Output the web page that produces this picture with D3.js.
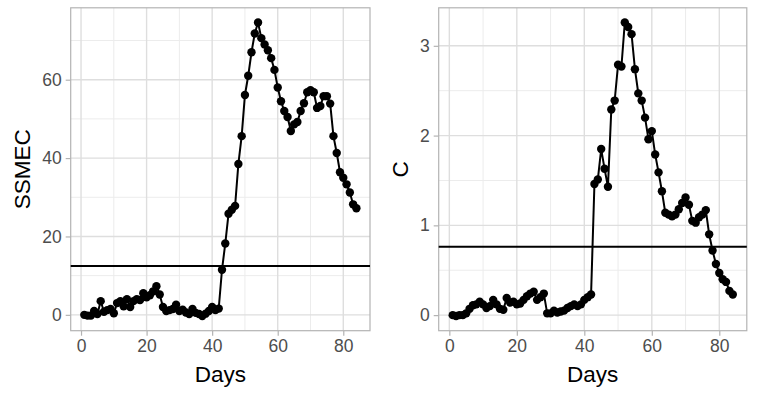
<!DOCTYPE html>
<html>
<head>
<meta charset="utf-8">
<script src="https://cdn.jsdelivr.net/npm/d3@7"></script>
<style>
  html, body { margin: 0; padding: 0; background: #ffffff; }
  svg { display: block; }
  text { font-family: Arial, "Liberation Sans", Helvetica, sans-serif; }
</style>
</head>
<body>
<svg id="chart" width="769" height="403"></svg>
<script>
// ---------------- data ----------------
const days = d3.range(1, 85);

const ssmec = [
  0, -0.2, -0.2, 1.0, 0.2, 3.5, 0.8, 1.2, 1.5, 0.4,
  3.0, 3.5, 2.2, 4.0, 2.0, 3.5, 4.0, 3.8, 5.5, 4.5,
  5.0, 6.0, 7.3, 5.2, 2.0, 1.0, 1.2, 1.5, 2.6, 1.0,
  1.3, 0.6, 0.2, 1.5, 0.5, 0.2, -0.3, 0.3, 1.0, 2.0,
  1.2, 1.6, 11.5, 18.2, 25.8, 26.8, 27.8, 38.5, 45.6, 56.1,
  61.0, 67.0, 71.8, 74.6, 70.6, 69.0, 67.5, 65.5, 62.5, 58.0,
  54.5, 52.0, 50.5, 46.9, 48.6, 49.2, 52.0, 54.0, 56.8, 57.3,
  56.8, 52.8, 53.3, 55.8, 55.8, 53.9, 45.6, 41.3, 36.4, 35.0,
  33.3, 31.2, 28.2, 27.2
];

const cValues = [
  0.0, -0.01, 0.0, 0.0, 0.02, 0.07, 0.11, 0.12, 0.15, 0.12,
  0.08, 0.1, 0.17, 0.12, 0.07, 0.06, 0.19, 0.14, 0.15, 0.12,
  0.13, 0.17, 0.21, 0.24, 0.26, 0.17, 0.2, 0.24, 0.02, 0.02,
  0.05, 0.03, 0.04, 0.05, 0.08, 0.1, 0.12, 0.1, 0.12, 0.17,
  0.2, 0.23, 1.46, 1.51, 1.85, 1.63, 1.43, 2.29, 2.39, 2.79,
  2.77, 3.26, 3.21, 3.13, 2.74, 2.47, 2.39, 2.2, 1.96, 2.05,
  1.79, 1.59, 1.38, 1.14, 1.12, 1.1, 1.12, 1.18, 1.25, 1.31,
  1.23, 1.05, 1.03, 1.09, 1.12, 1.17, 0.9, 0.72, 0.57, 0.47,
  0.4, 0.37, 0.27, 0.23
];

const ssmecThreshold = 12.45;
const cThreshold = 0.763;

const xTicks = [0, 20, 40, 60, 80];
const xMinor = [10, 30, 50, 70];
const ssmecTicks = [0, 20, 40, 60];
const ssmecMinor = [10, 30, 50, 70];
const cTicks = [0, 1, 2, 3];
const cMinor = [0.5, 1.5, 2.5];

const xTitle = "Days";
const panels = [
  { values: ssmec, threshold: ssmecThreshold, yTicks: ssmecTicks, yMinor: ssmecMinor, yTitle: "SSMEC",
    left: 70.7, right: 370, titleX: 22 },
  { values: cValues, threshold: cThreshold, yTicks: cTicks, yMinor: cMinor, yTitle: "C",
    left: 438.7, right: 746.8, titleX: 400 }
];

// ---------------- drawing ----------------
const svg = d3.select("#chart");
const panelTop = 7.8, panelBottom = 330.7;

function expand(ext) {
  const pad = (ext[1] - ext[0]) * 0.05;
  return [ext[0] - pad, ext[1] + pad];
}

panels.forEach(p => {
  const x = d3.scaleLinear().domain(expand(d3.extent(days))).range([p.left, p.right]);
  const y = d3.scaleLinear().domain(expand(d3.extent(p.values))).range([panelBottom, panelTop]);
  const g = svg.append("g");

  // minor grid
  g.selectAll(".vminor").data(xMinor).enter().append("line")
    .attr("x1", d => x(d)).attr("x2", d => x(d)).attr("y1", panelTop).attr("y2", panelBottom)
    .attr("stroke", "#ececec").attr("stroke-width", 1);
  g.selectAll(".hminor").data(p.yMinor).enter().append("line")
    .attr("x1", p.left).attr("x2", p.right).attr("y1", d => y(d)).attr("y2", d => y(d))
    .attr("stroke", "#ececec").attr("stroke-width", 1);
  // major grid
  g.selectAll(".vmajor").data(xTicks).enter().append("line")
    .attr("x1", d => x(d)).attr("x2", d => x(d)).attr("y1", panelTop).attr("y2", panelBottom)
    .attr("stroke", "#dedede").attr("stroke-width", 1.4);
  g.selectAll(".hmajor").data(p.yTicks).enter().append("line")
    .attr("x1", p.left).attr("x2", p.right).attr("y1", d => y(d)).attr("y2", d => y(d))
    .attr("stroke", "#dedede").attr("stroke-width", 1.4);

  // axes
  const xAxis = d3.axisBottom(x).tickValues(xTicks).tickSize(5).tickPadding(4).tickFormat(d3.format("d"));
  const gx = g.append("g").attr("transform", `translate(0,${panelBottom})`).call(xAxis);
  const yAxis = d3.axisLeft(y).tickValues(p.yTicks).tickSize(5).tickPadding(4).tickFormat(d3.format("d"));
  const gy = g.append("g").attr("transform", `translate(${p.left},0)`).call(yAxis);
  [gx, gy].forEach(a => {
    a.select(".domain").remove();
    a.selectAll(".tick line").attr("stroke", "#b3b3b3").attr("stroke-width", 1.2);
    a.selectAll(".tick text").attr("fill", "#4d4d4d").style("font-size", "17.5px");
  });

  // panel border
  g.append("rect").attr("x", p.left).attr("y", panelTop)
    .attr("width", p.right - p.left).attr("height", panelBottom - panelTop)
    .attr("fill", "none").attr("stroke", "#b3b3b3").attr("stroke-width", 1.2);

  // threshold line
  g.append("line").attr("x1", p.left).attr("x2", p.right)
    .attr("y1", y(p.threshold)).attr("y2", y(p.threshold))
    .attr("stroke", "#000").attr("stroke-width", 2);

  // series line
  const line = d3.line().x((d, i) => x(days[i])).y(d => y(d));
  g.append("path").datum(p.values).attr("d", line)
    .attr("fill", "none").attr("stroke", "#000").attr("stroke-width", 2);

  // points
  g.selectAll(".pt").data(p.values).enter().append("circle")
    .attr("cx", (d, i) => x(days[i])).attr("cy", d => y(d)).attr("r", 4.2)
    .attr("fill", "#000");

  // titles
  g.append("text").attr("x", (p.left + p.right) / 2).attr("y", 382)
    .attr("text-anchor", "middle").style("font-size", "22.5px").attr("fill", "#000").text(xTitle);
  g.append("text").attr("transform", `translate(${p.titleX + 8},${(panelTop + panelBottom) / 2}) rotate(-90)`)
    .attr("text-anchor", "middle").style("font-size", "22.5px").attr("fill", "#000").text(p.yTitle);
});
</script>
</body>
</html>
